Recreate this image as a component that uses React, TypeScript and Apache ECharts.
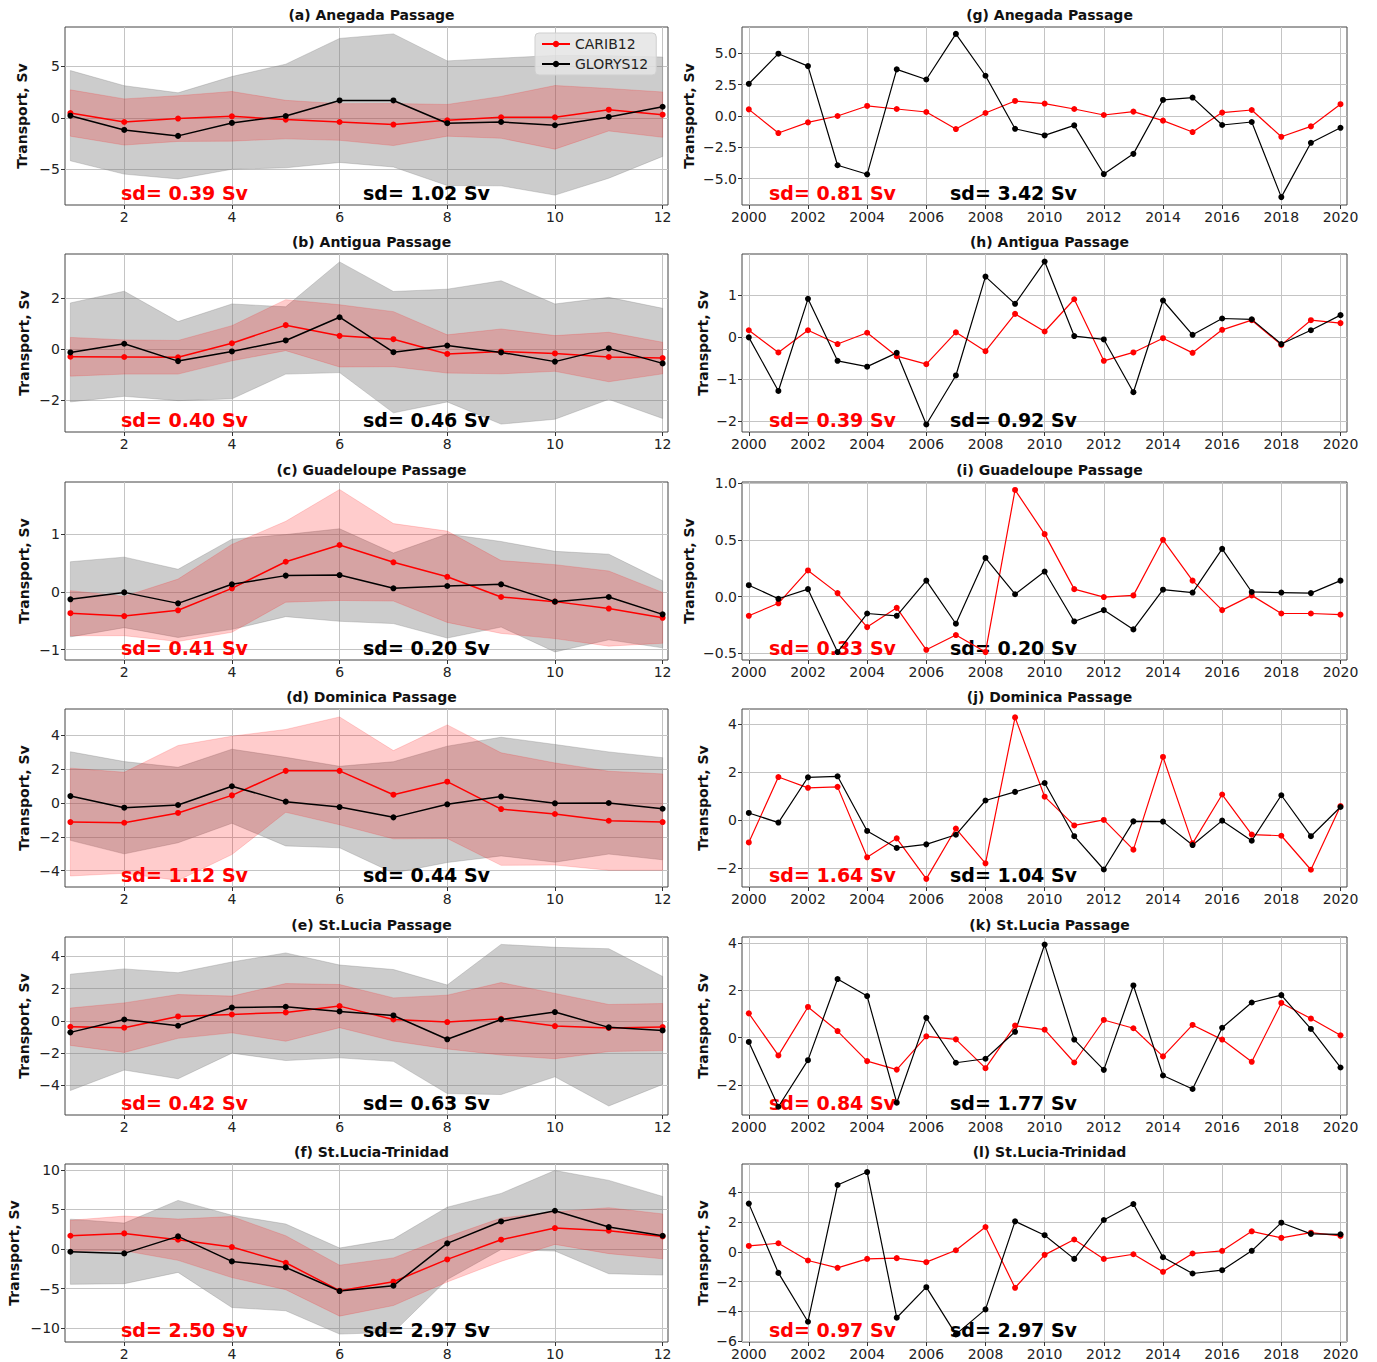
import React, { useEffect, useRef } from "react";
import * as echarts from "echarts";

// categories
const months = [1, 2, 3, 4, 5, 6, 7, 8, 9, 10, 11, 12];
const years = [2000, 2001, 2002, 2003, 2004, 2005, 2006, 2007, 2008, 2009, 2010,
  2011, 2012, 2013, 2014, 2015, 2016, 2017, 2018, 2019, 2020];
const monthTicks = [2, 4, 6, 8, 10, 12];
const yearTicks = [2000, 2002, 2004, 2006, 2008, 2010, 2012, 2014, 2016, 2018, 2020];

// monthly climatology: mean and monthly standard deviation
const anegadaCaribMean = [0.48, -0.39, -0.06, 0.16, -0.16, -0.39, -0.64, -0.23, 0.06, 0.06, 0.8, 0.32];
const anegadaCaribSd = [2.25, 2.24, 2.22, 2.41, 1.87, 1.78, 2.04, 1.54, 2.03, 3.09, 2.06, 2.2];
const anegadaGlorysMean = [0.22, -1.16, -1.74, -0.48, 0.19, 1.7, 1.7, -0.51, -0.39, -0.71, 0.1, 1.09];
const anegadaGlorysSd = [4.38, 4.29, 4.18, 4.5, 5.03, 6.02, 6.46, 6.05, 6.2, 6.78, 5.95, 4.82];

const antiguaCaribMean = [-0.3, -0.31, -0.32, 0.23, 0.94, 0.52, 0.39, -0.19, -0.09, -0.17, -0.31, -0.35];
const antiguaCaribSd = [0.76, 0.67, 0.66, 0.69, 1.0, 1.22, 1.08, 0.75, 0.88, 0.7, 0.97, 0.62];
const antiguaGlorysMean = [-0.13, 0.21, -0.47, -0.09, 0.34, 1.25, -0.12, 0.14, -0.13, -0.49, 0.03, -0.56];
const antiguaGlorysSd = [1.94, 2.06, 1.55, 1.86, 1.32, 2.17, 2.38, 2.21, 2.81, 2.26, 2.0, 2.16];

const guadeloupeCaribMean = [-0.37, -0.42, -0.32, 0.06, 0.52, 0.81, 0.51, 0.26, -0.09, -0.17, -0.29, -0.45];
const guadeloupeCaribSd = [0.39, 0.34, 0.54, 0.76, 0.7, 0.96, 0.67, 0.79, 0.63, 0.64, 0.65, 0.44];
const guadeloupeGlorysMean = [-0.13, -0.01, -0.2, 0.13, 0.28, 0.29, 0.06, 0.1, 0.13, -0.17, -0.09, -0.39];
const guadeloupeGlorysSd = [0.65, 0.61, 0.59, 0.78, 0.71, 0.8, 0.61, 0.9, 0.74, 0.87, 0.74, 0.58];

const dominicaCaribMean = [-1.13, -1.17, -0.59, 0.45, 1.9, 1.9, 0.49, 1.26, -0.36, -0.65, -1.05, -1.13];
const dominicaCaribSd = [3.19, 2.99, 3.99, 3.5, 2.45, 3.19, 2.61, 3.36, 3.33, 3.02, 2.93, 2.85];
const dominicaGlorysMean = [0.41, -0.28, -0.12, 0.99, 0.08, -0.24, -0.85, -0.08, 0.38, -0.02, 0.0, -0.34];
const dominicaGlorysSd = [2.62, 2.73, 2.23, 2.19, 2.62, 2.41, 3.29, 3.44, 3.51, 3.48, 3.02, 3.02];

const stLuciaCaribMean = [-0.37, -0.43, 0.27, 0.39, 0.52, 0.91, 0.08, -0.08, 0.12, -0.33, -0.45, -0.39];
const stLuciaCaribSd = [1.16, 1.54, 1.36, 1.14, 1.79, 1.34, 1.34, 1.67, 2.25, 2.03, 1.46, 1.46];
const stLuciaGlorysMean = [-0.72, 0.08, -0.31, 0.82, 0.87, 0.58, 0.33, -1.15, 0.08, 0.54, -0.41, -0.6];
const stLuciaGlorysSd = [3.61, 3.14, 3.29, 2.83, 3.34, 2.88, 2.85, 3.37, 4.66, 4.02, 4.88, 3.35];

const trinidadCaribMean = [1.68, 1.98, 1.18, 0.25, -1.73, -5.26, -4.13, -1.31, 1.18, 2.65, 2.32, 1.6];
const trinidadCaribSd = [1.95, 2.19, 2.61, 3.86, 3.41, 3.22, 3.01, 2.85, 2.74, 2.06, 2.9, 2.84];
const trinidadGlorysMean = [-0.34, -0.55, 1.6, -1.56, -2.32, -5.31, -4.63, 0.72, 3.49, 4.84, 2.78, 1.68];
const trinidadGlorysSd = [4.12, 3.83, 4.55, 5.83, 5.48, 5.44, 5.89, 4.57, 3.54, 5.09, 5.9, 4.97];

// annual means 2000-2020
const anegadaCaribYear = [0.53, -1.36, -0.51, 0.0, 0.8, 0.56, 0.32, -1.04, 0.24, 1.2, 0.99, 0.56, 0.08, 0.35, -0.37, -1.28, 0.27, 0.48, -1.66, -0.83, 0.94];
const anegadaGlorysYear = [2.57, 4.97, 3.98, -3.93, -4.65, 3.72, 2.91, 6.55, 3.21, -1.02, -1.55, -0.75, -4.63, -3.02, 1.28, 1.47, -0.72, -0.48, -6.47, -2.14, -0.94];
const antiguaCaribYear = [0.17, -0.36, 0.17, -0.16, 0.11, -0.45, -0.64, 0.12, -0.33, 0.56, 0.14, 0.91, -0.56, -0.36, -0.02, -0.37, 0.18, 0.41, -0.18, 0.41, 0.34];
const antiguaGlorysYear = [0.0, -1.28, 0.92, -0.56, -0.7, -0.37, -2.08, -0.91, 1.45, 0.8, 1.81, 0.03, -0.05, -1.31, 0.88, 0.06, 0.45, 0.43, -0.16, 0.17, 0.53];
const guadeloupeCaribYear = [-0.17, -0.06, 0.23, 0.03, -0.27, -0.1, -0.47, -0.34, -0.49, 0.94, 0.55, 0.065, -0.005, 0.01, 0.5, 0.14, -0.12, 0.01, -0.15, -0.15, -0.16];
const guadeloupeGlorysYear = [0.1, -0.02, 0.065, -0.49, -0.15, -0.17, 0.14, -0.24, 0.34, 0.02, 0.22, -0.22, -0.12, -0.29, 0.06, 0.035, 0.42, 0.04, 0.035, 0.03, 0.14];
const dominicaCaribYear = [-0.94, 1.79, 1.34, 1.38, -1.56, -0.77, -2.46, -0.36, -1.81, 4.28, 0.97, -0.23, 0.0, -1.24, 2.63, -0.98, 1.06, -0.61, -0.66, -2.08, 0.58];
const dominicaGlorysYear = [0.29, -0.11, 1.78, 1.82, -0.46, -1.17, -1.02, -0.62, 0.81, 1.17, 1.54, -0.68, -2.07, -0.06, -0.07, -1.05, -0.03, -0.87, 1.03, -0.68, 0.54];
const stLuciaCaribYear = [1.03, -0.75, 1.3, 0.28, -0.99, -1.35, 0.06, -0.07, -1.29, 0.51, 0.34, -1.05, 0.75, 0.4, -0.79, 0.54, -0.08, -1.02, 1.47, 0.81, 0.1];
const stLuciaGlorysYear = [-0.18, -2.92, -0.95, 2.48, 1.76, -2.75, 0.84, -1.06, -0.89, 0.25, 3.94, -0.08, -1.36, 2.21, -1.6, -2.17, 0.42, 1.49, 1.8, 0.37, -1.26];
const trinidadCaribYear = [0.4, 0.58, -0.58, -1.07, -0.47, -0.42, -0.69, 0.11, 1.67, -2.41, -0.2, 0.83, -0.47, -0.16, -1.34, -0.11, 0.07, 1.38, 0.94, 1.29, 1.07];
const trinidadGlorysYear = [3.24, -1.41, -4.69, 4.49, 5.36, -4.42, -2.37, -5.54, -3.86, 2.05, 1.12, -0.47, 2.14, 3.21, -0.36, -1.45, -1.23, 0.07, 1.96, 1.21, 1.18];

// standard deviations printed in each panel
const sdCaribClim = ["0.39", "0.40", "0.41", "1.12", "0.42", "2.50"];
const sdGlorysClim = ["1.02", "0.46", "0.20", "0.44", "0.63", "2.97"];
const sdCaribYear = ["0.81", "0.39", "0.33", "1.64", "0.84", "0.97"];
const sdGlorysYear = ["3.42", "0.92", "0.20", "1.04", "1.77", "2.97"];

const climTitles = ["(a) Anegada Passage", "(b) Antigua Passage", "(c) Guadeloupe Passage",
  "(d) Dominica Passage", "(e) St.Lucia Passage", "(f) St.Lucia-Trinidad"];
const yearTitles = ["(g) Anegada Passage", "(h) Antigua Passage", "(i) Guadeloupe Passage",
  "(j) Dominica Passage", "(k) St.Lucia Passage", "(l) St.Lucia-Trinidad"];

const climPanels = [
  { cm: anegadaCaribMean, cs: anegadaCaribSd, gm: anegadaGlorysMean, gs: anegadaGlorysSd, min: -8.45, max: 8.83, ticks: [-5, 0, 5], dec: 0, gap: 36 },
  { cm: antiguaCaribMean, cs: antiguaCaribSd, gm: antiguaGlorysMean, gs: antiguaGlorysSd, min: -3.25, max: 3.73, ticks: [-2, 0, 2], dec: 0, gap: 34 },
  { cm: guadeloupeCaribMean, cs: guadeloupeCaribSd, gm: guadeloupeGlorysMean, gs: guadeloupeGlorysSd, min: -1.18, max: 1.9, ticks: [-1, 0, 1], dec: 0, gap: 34 },
  { cm: dominicaCaribMean, cs: dominicaCaribSd, gm: dominicaGlorysMean, gs: dominicaGlorysSd, min: -4.97, max: 5.56, ticks: [-4, -2, 0, 2, 4], dec: 0, gap: 34 },
  { cm: stLuciaCaribMean, cs: stLuciaCaribSd, gm: stLuciaGlorysMean, gs: stLuciaGlorysSd, min: -5.85, max: 5.2, ticks: [-4, -2, 0, 2, 4], dec: 0, gap: 34 },
  { cm: trinidadCaribMean, cs: trinidadCaribSd, gm: trinidadGlorysMean, gs: trinidadGlorysSd, min: -11.75, max: 10.75, ticks: [-10, -5, 0, 5, 10], dec: 0, gap: 44 },
];

const yearPanels = [
  { c: anegadaCaribYear, g: anegadaGlorysYear, min: -7.1, max: 7.1, ticks: [-5, -2.5, 0, 2.5, 5], dec: 1, gap: 46 },
  { c: antiguaCaribYear, g: antiguaGlorysYear, min: -2.26, max: 1.99, ticks: [-2, -1, 0, 1], dec: 0, gap: 32 },
  { c: guadeloupeCaribYear, g: guadeloupeGlorysYear, min: -0.56, max: 1.01, ticks: [-0.5, 0, 0.5, 1], dec: 1, gap: 46 },
  { c: dominicaCaribYear, g: dominicaGlorysYear, min: -2.8, max: 4.63, ticks: [-2, 0, 2, 4], dec: 0, gap: 32 },
  { c: stLuciaCaribYear, g: stLuciaGlorysYear, min: -3.27, max: 4.26, ticks: [-2, 0, 2, 4], dec: 0, gap: 32 },
  { c: trinidadCaribYear, g: trinidadGlorysYear, min: -6.05, max: 5.9, ticks: [-6, -4, -2, 0, 2, 4], dec: 0, gap: 32 },
];

const FONT = "'DejaVu Sans', sans-serif";
const ROW_TOPS = [27, 254, 482, 709, 937, 1164];
const ROW_H = 178;
const LEFT_X = 65, LEFT_W = 603;
const RIGHT_X = 742, RIGHT_W = 605;
const RED = "#ff0000";
const GRAY_BAND = "rgba(128,128,128,0.4)";
const RED_BAND = "rgba(255,0,0,0.2)";

const pair = (x: number[], y: number[]) => x.map((v, k) => [v, y[k]]);
const fmt = (d: number) => (v: number) => v.toFixed(d).replace("-", "\u2212");

const App: React.FC = () => {
  const chartRef = useRef<HTMLDivElement>(null);

  useEffect(() => {
    if (!chartRef.current) return;
    const chart = echarts.init(chartRef.current, null, { renderer: "svg" });

    const grid: any[] = [];
    const xAxis: any[] = [];
    const yAxis: any[] = [];
    const series: any[] = [];
    const title: any[] = [];
    const graphic: any[] = [];

    const makeAxes = (gi: number, xmin: number, xmax: number, xticks: number[],
      ymin: number, ymax: number, yticks: number[], dec: number, gap: number) => {
      xAxis.push({
        type: "value", gridIndex: gi, min: xmin, max: xmax,
        axisLine: { show: false, onZero: false },
        axisTick: { show: true, length: 4, customValues: xticks, lineStyle: { color: "#333" } },
        axisLabel: { customValues: xticks, fontSize: 14, fontFamily: FONT, color: "#222", margin: 5,
          formatter: (v: number) => String(v) },
        splitLine: { show: true, lineStyle: { color: "#c4c4c4", width: 1 } },
      });
      yAxis.push({
        type: "value", gridIndex: gi, min: ymin, max: ymax,
        name: "Transport, Sv", nameLocation: "middle", nameGap: gap,
        nameTextStyle: { fontSize: 14, fontWeight: "bold", fontFamily: FONT, color: "#111" },
        axisLine: { show: false, onZero: false },
        axisTick: { show: true, length: 4, customValues: yticks, lineStyle: { color: "#333" } },
        axisLabel: { customValues: yticks, fontSize: 14, fontFamily: FONT, color: "#222", margin: 5, formatter: fmt(dec) },
        splitLine: { show: true, lineStyle: { color: "#c4c4c4", width: 1 } },
      });
    };

    // mean ± sd band, drawn as one polygon through the axis scales
    const band = (gi: number, mean: number[], sd: number[], color: string) => {
      const rows = months.map((m, k) => [m, mean[k] - sd[k], mean[k] + sd[k]]);
      series.push({
        type: "custom", xAxisIndex: gi, yAxisIndex: gi, silent: true, z: 1,
        data: rows,
        encode: { x: 0, y: [1, 2] },
        renderItem: (params: any, api: any) => {
          if (params.dataIndex !== 0) return null;
          const upper = rows.map((r) => api.coord([r[0], r[2]]));
          const lower = rows.map((r) => api.coord([r[0], r[1]])).reverse();
          return {
            type: "polygon",
            shape: { points: upper.concat(lower) },
            style: { fill: color, stroke: color, lineWidth: 0.8 },
          };
        },
      });
    };

    const meanLine = (gi: number, name: string, x: number[], y: number[], color: string, width: number) => {
      series.push({
        type: "line", name, xAxisIndex: gi, yAxisIndex: gi, data: pair(x, y),
        symbol: "circle", symbolSize: 6, z: 3,
        lineStyle: { color, width }, itemStyle: { color },
      });
    };

    const sdText = (x: number, y: number, text: string, fill: string) => {
      graphic.push({
        type: "text", left: x, top: y, z: 2,
        style: { text, fill, font: `bold 19px ${FONT}` },
      });
    };

    climPanels.forEach((p, i) => {
      const gi = i;
      const top = ROW_TOPS[i];
      grid.push({ left: LEFT_X, top, width: LEFT_W, height: ROW_H, show: true, borderColor: "#444", borderWidth: 1, backgroundColor: "transparent" });
      makeAxes(gi, 0.9, 12.1, monthTicks, p.min, p.max, p.ticks, p.dec, p.gap);
      band(gi, p.gm, p.gs, GRAY_BAND);
      band(gi, p.cm, p.cs, RED_BAND);
      meanLine(gi, "CARIB12", months, p.cm, RED, 1.5);
      meanLine(gi, "GLORYS12", months, p.gm, "#000", 1.5);
      title.push({ text: climTitles[i], left: LEFT_X + LEFT_W / 2, top: top - 24, textAlign: "center",
        textStyle: { fontSize: 14, fontWeight: "bold", fontFamily: FONT, color: "#111" } });
      sdText(121, top + 156, `sd= ${sdCaribClim[i]} Sv`, RED);
      sdText(363, top + 156, `sd= ${sdGlorysClim[i]} Sv`, "#000");
    });

    yearPanels.forEach((p, i) => {
      const gi = 6 + i;
      const top = ROW_TOPS[i];
      grid.push({ left: RIGHT_X, top, width: RIGHT_W, height: ROW_H, show: true, borderColor: "#444", borderWidth: 1, backgroundColor: "transparent" });
      makeAxes(gi, 1999.77, 2020.22, yearTicks, p.min, p.max, p.ticks, p.dec, p.gap);
      meanLine(gi, "CARIB12", years, p.c, RED, 1.2);
      meanLine(gi, "GLORYS12", years, p.g, "#000", 1.2);
      title.push({ text: yearTitles[i], left: RIGHT_X + RIGHT_W / 2, top: top - 24, textAlign: "center",
        textStyle: { fontSize: 14, fontWeight: "bold", fontFamily: FONT, color: "#111" } });
      sdText(769, top + 156, `sd= ${sdCaribYear[i]} Sv`, RED);
      sdText(950, top + 156, `sd= ${sdGlorysYear[i]} Sv`, "#000");
    });

    const option: echarts.EChartsCoreOption = {
      animation: false,
      backgroundColor: "#fff",
      title,
      grid,
      xAxis,
      yAxis,
      series,
      graphic,
      legend: {
        data: ["CARIB12", "GLORYS12"],
        left: 535, top: 33, orient: "vertical",
        itemWidth: 28, itemHeight: 8, itemGap: 6,
        textStyle: { fontSize: 14, fontFamily: FONT, color: "#222" },
        backgroundColor: "rgba(228,228,228,0.85)", borderColor: "#cfcfcf", borderWidth: 1,
        borderRadius: 4, padding: [4, 8, 4, 6],
      },
    };

    chart.setOption(option);
    return () => {
      chart.dispose();
    };
  }, []);

  return (
    <div
      ref={chartRef}
      style={{ position: "absolute", left: 0, top: 0, width: 1377, height: 1362, background: "#fff" }}
    />
  );
};

export default App;
